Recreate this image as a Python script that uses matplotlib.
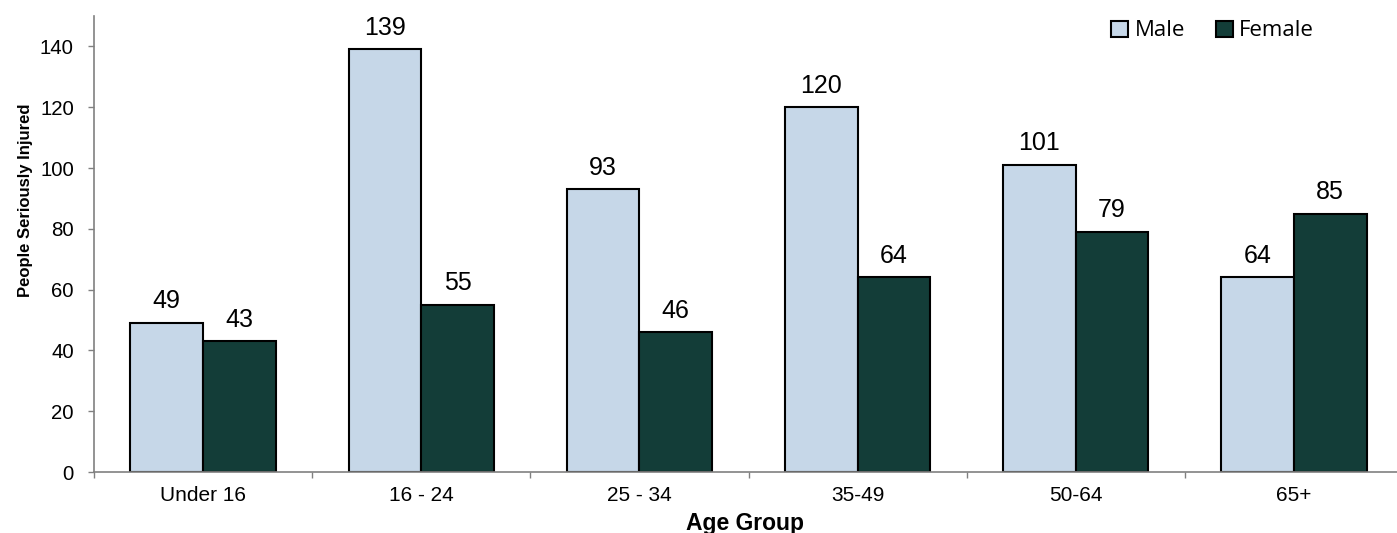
import matplotlib
matplotlib.use('Agg')
import matplotlib.pyplot as plt
import numpy as np

plt.rcParams['font.family'] = ['Liberation Sans', 'DejaVu Sans']

groups = ['Under 16', '16 - 24', '25 - 34', '35-49', '50-64', '65+']
male = [49, 139, 93, 120, 101, 64]
female = [43, 55, 46, 64, 79, 85]

male_col = '#C6D7E8'
female_col = '#133D38'
grey = '#808080'

fig = plt.figure(figsize=(13.97, 5.33), dpi=100)
ax = fig.add_axes([94/1397, 1 - 472/533, 1309/1397, 456/533])

x = np.arange(len(groups))
w = 1/3
b1 = ax.bar(x - w/2, male, w, color=male_col, edgecolor='black', linewidth=1.5, label='Male')
b2 = ax.bar(x + w/2, female, w, color=female_col, edgecolor='black', linewidth=1.5, label='Female')

for bars, vals in ((b1, male), (b2, female)):
    for r, v in zip(bars, vals):
        ax.annotate(str(v), (r.get_x() + r.get_width()/2, r.get_height()),
                    xytext=(0, 10.5), textcoords='offset points',
                    ha='center', va='baseline', fontsize=18)

ax.set_xlim(-0.5, len(groups) - 0.5)
ax.set_ylim(0, 150)
ax.set_yticks(range(0, 141, 20))
ax.set_xticks(x)
ax.set_xticklabels(groups)
ax.set_xticks(np.arange(-0.5, len(groups), 1), minor=True)

for s in ('top', 'right'):
    ax.spines[s].set_visible(False)
for s in ('left', 'bottom'):
    ax.spines[s].set_color(grey)
    ax.spines[s].set_linewidth(1.2)

ax.tick_params(axis='y', direction='out', length=4.5, width=1, color=grey, pad=10, labelsize=14.7)
ax.tick_params(axis='x', which='major', length=0, pad=10, labelsize=15)
ax.tick_params(axis='x', which='minor', direction='out', length=4.5, width=1, color=grey)

ax.set_ylabel('People Seriously Injured', fontsize=12, fontweight='bold')
ax.yaxis.set_label_coords(-0.0466, 0.596)
ax.set_xlabel('Age Group', fontsize=16.5, fontweight='bold')
ax.xaxis.set_label_coords(0.497, -0.088)
ax.xaxis.label.set_va('top')

fig.legend(handles=[b1, b2], loc='center', bbox_to_anchor=(0.868, 0.942),
           ncol=2, frameon=False, handlelength=0.75, handleheight=0.75,
           handletextpad=0.3, columnspacing=1.4,
           prop={'family': 'Open Sans', 'size': 16})

fig.savefig('out.png', dpi=100)
